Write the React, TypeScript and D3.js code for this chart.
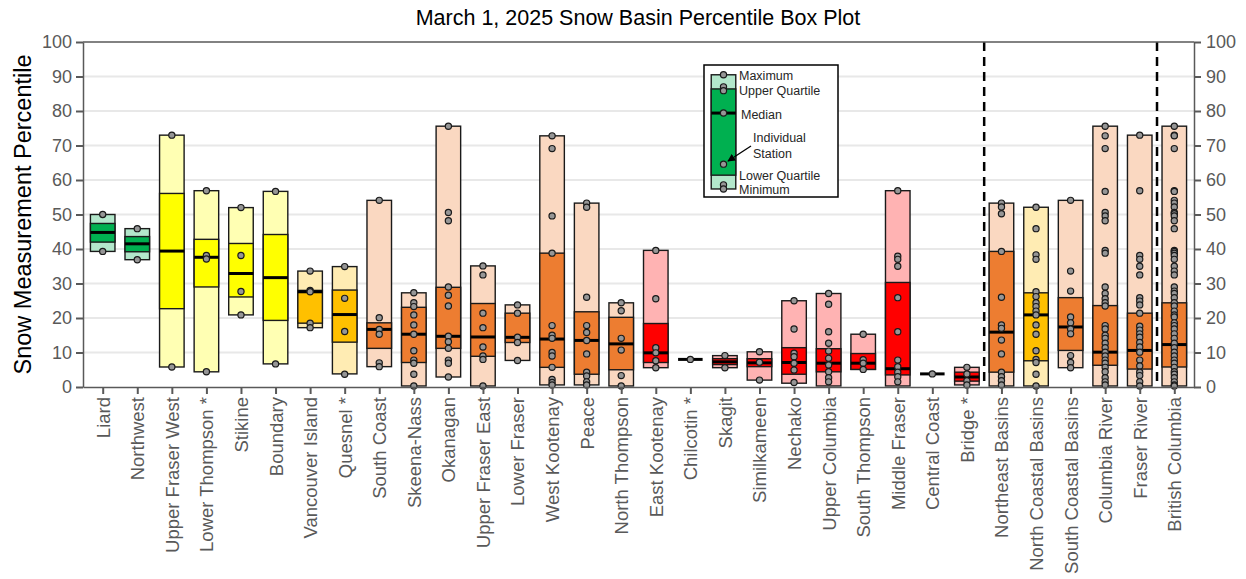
import { useEffect, useRef } from 'react'
import * as d3 from 'd3'

const basins = [
  'Liard', 'Northwest', 'Upper Fraser West', 'Lower Thompson *', 'Stikine', 'Boundary',
  'Vancouver Island', 'Quesnel *', 'South Coast', 'Skeena-Nass', 'Okanagan', 'Upper Fraser East',
  'Lower Fraser', 'West Kootenay', 'Peace', 'North Thompson', 'East Kootenay', 'Chilcotin *',
  'Skagit', 'Similkameen', 'Nechako', 'Upper Columbia', 'South Thompson', 'Middle Fraser',
  'Central Coast', 'Bridge *', 'Northeast Basins', 'North Coastal Basins', 'South Coastal Basins',
  'Columbia River', 'Fraser River', 'British Columbia',
]

const minimums = [39.3, 36.9, 5.8, 4.4, 20.9, 6.7, 17.2, 3.8, 5.9, 0.3, 2.9, 0.3, 7.7, 0.6, 0.6, 0.3, 5.6, 8.0, 5.6, 2.0, 1.1, 0.3, 5.1, 0.3, 3.8, 0.6, 0.3, 0.3, 5.6, 0.3, 0.3, 0.3]
const lowerQuartiles = [42.0, 39.2, 22.7, 29.0, 26.1, 19.3, 18.5, 13.0, 11.2, 7.1, 11.2, 8.9, 12.9, 5.7, 3.7, 5.0, 7.1, 8.0, 6.5, 5.9, 3.7, 4.4, 5.1, 3.5, 3.8, 1.7, 4.3, 7.6, 10.6, 6.3, 5.2, 5.8]
const medians = [44.8, 41.5, 39.4, 37.6, 32.9, 31.7, 27.6, 21.0, 16.7, 15.3, 14.7, 14.5, 14.4, 13.9, 13.5, 12.5, 9.9, 8.0, 7.3, 7.0, 7.1, 6.9, 6.9, 5.3, 3.8, 2.9, 15.9, 20.9, 17.4, 10.1, 10.6, 12.3]
const upperQuartiles = [47.4, 43.6, 56.1, 42.8, 41.6, 44.2, 28.0, 28.1, 18.6, 23.1, 28.9, 24.2, 21.4, 38.8, 21.8, 20.2, 18.4, 8.0, 8.2, 8.2, 11.4, 11.1, 9.7, 30.3, 3.8, 4.3, 39.3, 27.3, 25.9, 23.6, 21.4, 24.4]
const maximums = [50.0, 45.9, 73.0, 56.9, 52.0, 56.7, 33.6, 34.9, 54.1, 27.3, 75.6, 35.1, 23.8, 72.8, 53.3, 24.4, 39.6, 8.0, 9.1, 10.2, 25.0, 27.1, 15.3, 56.9, 3.8, 5.7, 53.3, 52.1, 54.1, 75.6, 73.0, 75.6]

const stations: number[][] = [
  [50.0, 39.3],
  [45.9, 36.9],
  [73.0, 5.8],
  [56.9, 38.1, 37.1, 4.4],
  [52.0, 38.1, 27.7, 20.9],
  [56.7, 6.7],
  [33.6, 28.0, 27.6, 18.5, 17.2],
  [34.9, 25.7, 16.1, 3.7],
  [54.1, 20.1, 16.7, 15.3, 7.0, 5.9],
  [27.3, 24.4, 23.3, 20.9, 18.0, 15.3, 10.5, 7.8, 6.9, 3.7, 0.3],
  [75.6, 50.6, 48.2, 29.0, 26.6, 23.5, 14.7, 13.1, 11.2, 7.8, 6.9, 2.9],
  [35.1, 32.5, 21.4, 17.2, 11.6, 9.0, 8.0, 0.3],
  [23.8, 21.4, 14.4, 12.9, 7.7],
  [72.8, 69.1, 49.6, 38.8, 17.8, 15.0, 14.1, 10.0, 9.0, 5.7, 2.2, 1.3, 0.6],
  [53.3, 52.1, 26.0, 17.8, 15.8, 13.5, 9.6, 4.3, 3.2, 1.5, 0.6],
  [24.4, 22.1, 14.1, 10.7, 3.3, 0.3],
  [39.6, 25.6, 11.4, 9.9, 7.6, 5.6],
  [8.0],
  [9.1, 5.6],
  [10.2, 7.2, 2.0],
  [25.0, 16.8, 9.8, 8.8, 6.9, 4.9, 1.3],
  [27.1, 24.0, 16.0, 12.7, 10.4, 8.3, 6.4, 4.4, 2.7, 1.5],
  [15.3, 7.9, 6.9, 5.1],
  [56.9, 37.9, 37.0, 35.0, 25.9, 16.0, 7.8, 5.9, 4.3, 3.0, 1.5],
  [3.8],
  [5.7, 3.8, 1.8, 0.6],
  [53.3, 52.2, 50.2, 39.3, 26.0, 18.0, 17.0, 13.6, 9.6, 4.3, 3.0, 1.8, 0.6],
  [52.1, 45.9, 38.3, 37.0, 27.6, 26.2, 24.4, 23.3, 22.0, 20.9, 18.0, 15.3, 10.5, 8.0, 7.1, 3.7, 0.3],
  [54.1, 33.6, 27.8, 20.3, 18.6, 16.8, 15.4, 9.1, 7.1, 5.6],
  [75.6, 72.8, 69.1, 56.7, 50.6, 49.6, 48.2, 39.6, 38.8, 29.0, 27.1, 25.6, 24.4, 23.5, 17.8, 16.8, 15.0, 14.1, 12.7, 11.4, 10.1, 9.0, 7.8, 6.9, 5.7, 4.4, 2.7, 1.5, 0.6],
  [73.0, 56.9, 38.1, 37.0, 35.0, 32.5, 25.9, 24.9, 23.8, 21.4, 17.6, 16.5, 15.4, 14.4, 12.9, 11.6, 10.1, 7.8, 6.1, 4.3, 3.3, 1.5, 0.3],
  [75.6, 73.0, 72.8, 69.1, 56.9, 56.7, 54.1, 53.3, 52.2, 50.6, 50.2, 49.6, 48.2, 45.9, 39.6, 39.3, 38.8, 38.1, 37.0, 35.0, 33.6, 32.5, 29.0, 27.8, 27.1, 25.9, 24.4, 23.5, 22.0, 20.9, 20.3, 18.6, 17.8, 16.8, 15.4, 14.1, 12.7, 11.4, 10.1, 9.0, 7.8, 6.9, 5.7, 4.4, 3.7, 2.7, 1.5, 0.6, 0.3],
]

const yTicks = [0, 10, 20, 30, 40, 50, 60, 70, 80, 90, 100]
// dashed separators sit after these basins (regional groups, then the province)
const dividerAfter = ['Bridge *', 'Fraser River']

// legend sample box, in percentile units on the same y scale
const legendStats = { min: 57.4, q1: 61.4, median: 79.4, q3: 86.4, max: 90.5 }
const legendPoints = [90.5, 87.0, 85.9, 79.4, 64.6, 58.6, 57.4]

const FONT = '"Liberation Sans", Arial, sans-serif'
const AXIS_GREY = '#595959'

export default function App() {
  const svgRef = useRef<SVGSVGElement>(null)

  useEffect(() => {
    if (!svgRef.current) return
    const width = 1246
    const height = 579
    const left = 83
    const right = 1194
    const top = 42
    const bottom = 387

    const svg = d3.select(svgRef.current)
    svg.selectAll('*').remove()
    svg.attr('width', width).attr('height', height)

    const x = d3.scalePoint<string>().domain(basins).range([left, right]).padding(0.57)
    const y = d3.scaleLinear().domain([0, 100]).range([bottom, top])
    const bw = x.step() * 0.71

    const color = d3.scaleThreshold<number, string>()
      .domain([10, 20, 30, 40])
      .range(['#ff0000', '#ed7d31', '#ffc000', '#ffff00', '#00b050'])
    const light = (c: string) => d3.interpolateRgb('#ffffff', c)(0.3)

    // Title
    svg.append('text')
      .attr('x', 638).attr('y', 25)
      .attr('text-anchor', 'middle')
      .attr('font-family', FONT).attr('font-size', 21.5)
      .attr('fill', '#000')
      .text('March 1, 2025 Snow Basin Percentile Box Plot')

    // Y title
    svg.append('text')
      .attr('transform', `translate(31,${(top + bottom) / 2}) rotate(-90)`)
      .attr('text-anchor', 'middle')
      .attr('font-family', FONT).attr('font-size', 23.5)
      .attr('fill', '#000')
      .text('Snow Measurement Percentile')

    // Grid
    svg.append('g')
      .selectAll('line')
      .data(yTicks.filter(t => t > 0 && t < 100))
      .join('line')
      .attr('x1', left).attr('x2', right)
      .attr('y1', d => y(d)).attr('y2', d => y(d))
      .attr('stroke', '#e8e8e8')
      .attr('stroke-width', 2)

    // Group dividers
    svg.append('g')
      .selectAll('line')
      .data(dividerAfter)
      .join('line')
      .attr('x1', d => x(d)! + x.step() / 2)
      .attr('x2', d => x(d)! + x.step() / 2)
      .attr('y1', top).attr('y2', bottom)
      .attr('stroke', '#000')
      .attr('stroke-width', 2.5)
      .attr('stroke-dasharray', '9 6')

    const drawPoints = (g: d3.Selection<SVGGElement, unknown, null, undefined>, cx: number, vals: number[]) => {
      g.selectAll('circle')
        .data(vals)
        .join('circle')
        .attr('cx', cx).attr('cy', d => y(d))
        .attr('r', 3.1)
        .attr('fill', '#969696')
        .attr('stroke', '#1a1a1a').attr('stroke-width', 1.2)
    }

    // Boxes
    const boxes = svg.append('g')
    basins.forEach((name, i) => {
      const cx = x(name)!
      const c = color(medians[i])
      const g = boxes.append('g')
      if (maximums[i] > minimums[i]) {
        g.append('rect')
          .attr('x', cx - bw / 2).attr('width', bw)
          .attr('y', y(maximums[i])).attr('height', y(minimums[i]) - y(maximums[i]))
          .attr('fill', light(c))
          .attr('stroke', '#1a1a1a').attr('stroke-width', 1.4)
        g.append('rect')
          .attr('x', cx - bw / 2).attr('width', bw)
          .attr('y', y(upperQuartiles[i])).attr('height', Math.max(0.5, y(lowerQuartiles[i]) - y(upperQuartiles[i])))
          .attr('fill', c)
          .attr('stroke', '#1a1a1a').attr('stroke-width', 1.4)
      }
      g.append('line')
        .attr('x1', cx - bw / 2).attr('x2', cx + bw / 2)
        .attr('y1', y(medians[i])).attr('y2', y(medians[i]))
        .attr('stroke', '#000').attr('stroke-width', 3)
      drawPoints(g, cx, stations[i])
    })

    // Frame
    svg.append('line')
      .attr('x1', left).attr('x2', right).attr('y1', top).attr('y2', top)
      .attr('stroke', AXIS_GREY).attr('stroke-width', 1.5)

    const styleAxis = (sel: d3.Selection<SVGGElement, unknown, null, undefined>, size: number) => {
      sel.select('.domain').attr('stroke', AXIS_GREY).attr('stroke-width', 1.5)
      sel.selectAll('.tick line').attr('stroke', AXIS_GREY).attr('stroke-width', 2)
      sel.selectAll('.tick text')
        .attr('fill', AXIS_GREY)
        .attr('font-family', FONT)
        .attr('font-size', size)
    }

    svg.append('g')
      .attr('transform', `translate(${left},0)`)
      .call(d3.axisLeft(y).tickValues(yTicks).tickSize(7).tickSizeOuter(0).tickPadding(4))
      .call(sel => styleAxis(sel, 18))

    svg.append('g')
      .attr('transform', `translate(${right},0)`)
      .call(d3.axisRight(y).tickValues(yTicks).tickSize(7).tickSizeOuter(0).tickPadding(5))
      .call(sel => styleAxis(sel, 18))

    svg.append('g')
      .attr('transform', `translate(0,${bottom})`)
      .call(d3.axisBottom(x).tickSize(7).tickSizeOuter(0))
      .call(sel => styleAxis(sel, 18.5))
      .call(sel => sel.selectAll('.tick text')
        .attr('transform', 'rotate(-90)')
        .attr('text-anchor', 'end')
        .attr('x', -10).attr('y', 0)
        .attr('dy', '0.35em'))

    // Legend
    const lg = svg.append('g')
    const lx = 723.5
    lg.append('rect')
      .attr('x', 704).attr('y', 65).attr('width', 134).attr('height', 132)
      .attr('fill', '#fff').attr('stroke', '#000').attr('stroke-width', 1.5)
    lg.append('rect')
      .attr('x', lx - bw / 2).attr('width', bw)
      .attr('y', y(legendStats.max)).attr('height', y(legendStats.min) - y(legendStats.max))
      .attr('fill', light('#00b050')).attr('stroke', '#1a1a1a').attr('stroke-width', 1.4)
    lg.append('rect')
      .attr('x', lx - bw / 2).attr('width', bw)
      .attr('y', y(legendStats.q3)).attr('height', y(legendStats.q1) - y(legendStats.q3))
      .attr('fill', '#00b050').attr('stroke', '#1a1a1a').attr('stroke-width', 1.4)
    lg.append('line')
      .attr('x1', lx - bw / 2).attr('x2', lx + bw / 2)
      .attr('y1', y(legendStats.median)).attr('y2', y(legendStats.median))
      .attr('stroke', '#000').attr('stroke-width', 3)
    drawPoints(lg, lx, legendPoints)

    const legendLabels: [string, number, number][] = [
      ['Maximum', 739, 76],
      ['Upper Quartile', 739, 91],
      ['Median', 741, 115],
      ['Individual', 753, 138],
      ['Station', 753, 154],
      ['Lower Quartile', 739, 176],
      ['Minimum', 739, 189.5],
    ]
    lg.selectAll('text')
      .data(legendLabels)
      .join('text')
      .attr('x', d => d[1]).attr('y', d => d[2])
      .attr('dy', '0.35em')
      .attr('font-family', FONT).attr('font-size', 12.5)
      .attr('fill', '#262626')
      .text(d => d[0])

    svg.append('defs').append('marker')
      .attr('id', 'arrow')
      .attr('viewBox', '0 0 10 10')
      .attr('refX', 9).attr('refY', 5)
      .attr('markerWidth', 6).attr('markerHeight', 6)
      .attr('orient', 'auto')
      .append('path')
      .attr('d', 'M0,0 L10,5 L0,10 z')
      .attr('fill', '#000')
    lg.append('line')
      .attr('x1', 751).attr('y1', 146)
      .attr('x2', 728).attr('y2', 161)
      .attr('stroke', '#000').attr('stroke-width', 1.3)
      .attr('marker-end', 'url(#arrow)')
  }, [])

  return (
    <div style={{ position: 'absolute', left: 0, top: 0, background: '#fff' }}>
      <svg ref={svgRef} style={{ display: 'block' }} />
    </div>
  )
}
